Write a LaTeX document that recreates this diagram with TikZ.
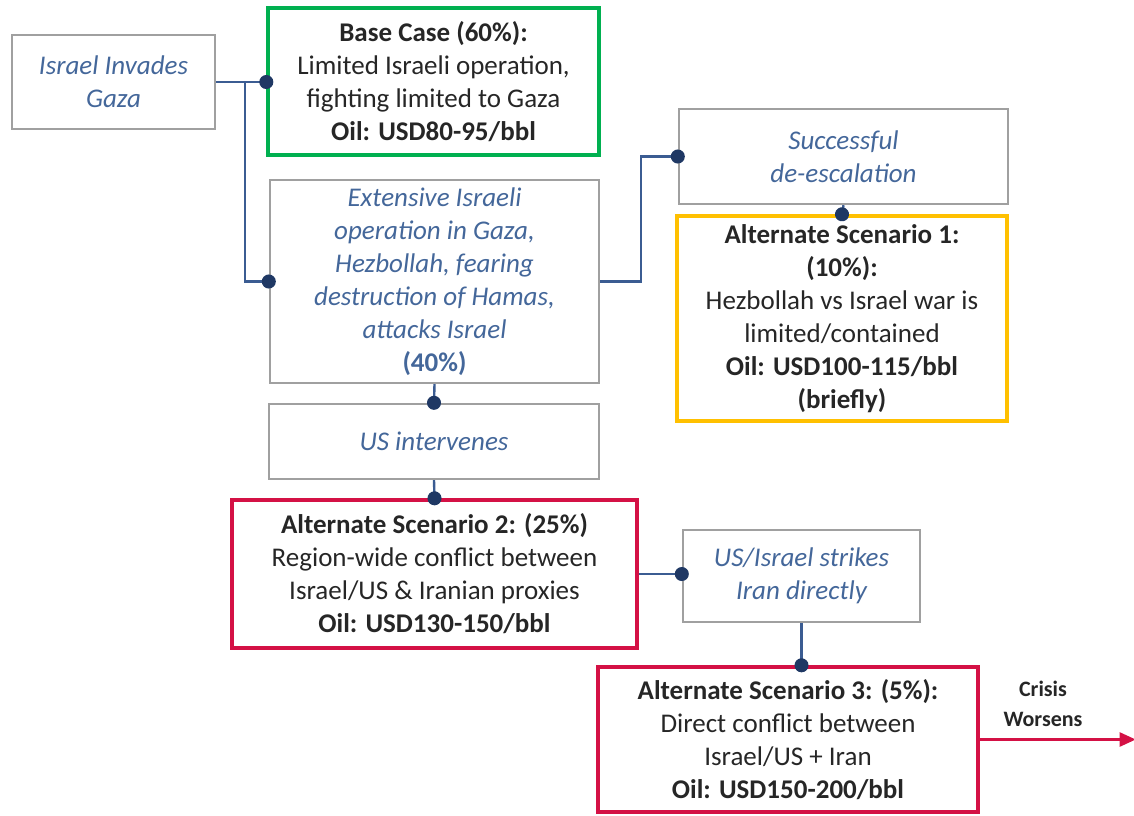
\documentclass[tikz,border=0pt]{standalone}
\usepackage{fontspec}
\setmainfont{Carlito}
\usetikzlibrary{arrows.meta, positioning}

\definecolor{linkblue}{HTML}{3B5C92}
\definecolor{dotblue}{HTML}{1F3864}
\definecolor{eventblue}{HTML}{44679A}
\definecolor{boxgray}{HTML}{A0A0A0}
\definecolor{textgray}{HTML}{262626}
\definecolor{basegreen}{HTML}{00B050}
\definecolor{altyellow}{HTML}{FFC000}
\definecolor{altred}{HTML}{D41145}

\begin{document}
\begin{tikzpicture}[x=0.5pt, y=-0.5pt,
  every node/.style={align=center, inner sep=0pt},
  event/.style={draw=boxgray, line width=1.2pt, text=eventblue,
    font=\fontsize{13.5}{16.5}\selectfont\itshape},
  outcome/.style={draw=#1, line width=1.7pt, text=textgray,
    font=\fontsize{13.5}{16.5}\selectfont},
  link/.style={draw=linkblue, line width=1.2pt,
    -{Circle[length=7pt, fill=dotblue, color=dotblue]}, shorten >=-3.5pt},
  crisis/.style={draw=altred, line width=1.2pt, -{Triangle[length=8pt, width=7pt]}}]
\useasboundingbox (0,0) rectangle (1134,815);

% Trigger
\node[event, minimum width=101.5pt, minimum height=47pt] (israel) at (113.5,82) {Israel Invades\\Gaza};

% First branch
\node[outcome=basegreen, minimum width=165.5pt, minimum height=73.5pt] (base) at (433.5,81.5)
  {\textbf{Base Case (60\%):}\\Limited Israeli operation,\\fighting limited to Gaza\\\textbf{Oil: USD80-95/bbl}};
\node[event, minimum width=164.5pt, minimum height=101.5pt] (ext) at (434.5,281.5)
  {Extensive Israeli\\operation in Gaza,\\Hezbollah, fearing\\destruction of Hamas,\\attacks Israel\\\upshape\textbf{(40\%)}};

% De-escalation
\node[event, minimum width=164.5pt, minimum height=47.5pt] (desc) at (843.5,156.5) {Successful\\de-escalation};
\node[outcome=altyellow, minimum width=165pt, minimum height=102.5pt] (alt1) at (842,318.5)
  {\textbf{Alternate Scenario 1:}\\\textbf{(10\%):}\\Hezbollah vs Israel war is\\limited/contained\\\textbf{Oil: USD100-115/bbl}\\\textbf{(briefly)}};

% Escalation
\node[event, minimum width=165pt, minimum height=37.5pt] (usint) at (434,441.5) {US intervenes};
\node[outcome=altred, minimum width=202.5pt, minimum height=74pt] (alt2) at (434.5,574)
  {\textbf{Alternate Scenario 2: (25\%)}\\Region-wide conflict between\\Israel/US \& Iranian proxies\\\textbf{Oil: USD130-150/bbl}};
\node[event, minimum width=118.5pt, minimum height=46pt] (strike) at (801.5,576) {US/Israel strikes\\Iran directly};
\node[outcome=altred, minimum width=190pt, minimum height=72.5pt] (alt3) at (788,739.5)
  {\textbf{Alternate Scenario 3: (5\%):}\\Direct conflict between\\Israel/US + Iran\\\textbf{Oil: USD150-200/bbl}};
\node[font=\fontsize{11}{15}\selectfont\bfseries, text=textgray] (worse) at (1043,704) {Crisis\\Worsens};

% Connectors
\coordinate (split) at (245,82);
\draw[link] (israel.east) -- (israel.east -| base.west);
\draw[link] (split) |- (ext.west);
\draw[link] (ext.east) -- ++(41,0) |- (desc.west);
\draw[link] (desc.south) -- (alt1.north);
\draw[link] (ext.south) -- (usint.north);
\draw[link] (usint.south) -- (alt2.north);
\draw[link] (alt2.east) -- (alt2.east -| strike.west);
\draw[link] (strike.south) -- (strike.south |- alt3.north);
\draw[crisis] (alt3.east) -- ++(156,0);
\end{tikzpicture}
\end{document}
